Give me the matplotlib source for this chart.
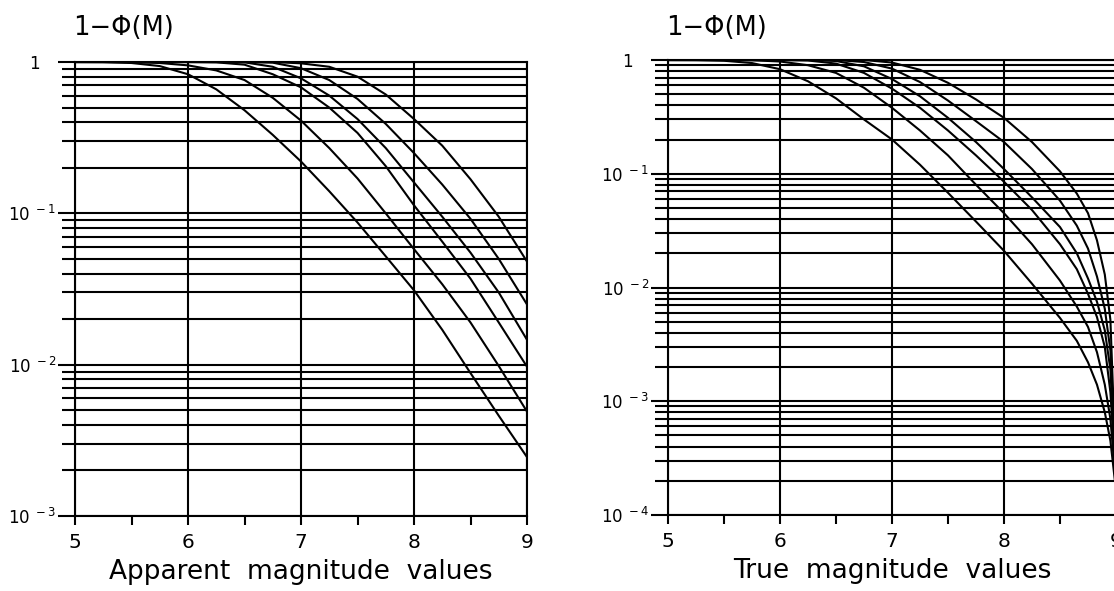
import matplotlib
matplotlib.use('Agg')
import matplotlib.pyplot as plt
from matplotlib.ticker import FixedLocator, FixedFormatter, NullFormatter

# ---------------- data ----------------
x_app = [5.0, 5.25, 5.5, 5.75, 6.0, 6.25, 6.5, 6.75, 7.0, 7.25, 7.5, 7.75, 8.0, 8.25, 8.5, 8.75, 9.0]
app_1 = [1.0, 0.998, 0.985, 0.94, 0.83, 0.66, 0.48, 0.33, 0.22, 0.14, 0.087, 0.052, 0.031, 0.017, 0.0088, 0.0046, 0.00245]
app_2 = [1.0, 1.0, 0.997, 0.985, 0.95, 0.88, 0.76, 0.58, 0.41, 0.27, 0.17, 0.10, 0.058, 0.034, 0.019, 0.0098, 0.0049]
app_3 = [1.0, 1.0, 1.0, 1.0, 1.0, 0.995, 0.96, 0.83, 0.68, 0.50, 0.34, 0.205, 0.113, 0.065, 0.037, 0.019, 0.0097]
app_4 = [1.0, 1.0, 1.0, 1.0, 1.0, 1.0, 0.995, 0.93, 0.78, 0.60, 0.42, 0.27, 0.16, 0.095, 0.055, 0.030, 0.0146]
app_5 = [1.0, 1.0, 1.0, 1.0, 1.0, 1.0, 1.0, 0.99, 0.91, 0.76, 0.57, 0.39, 0.25, 0.155, 0.092, 0.05, 0.025]
app_6 = [1.0, 1.0, 1.0, 1.0, 1.0, 1.0, 1.0, 1.0, 0.98, 0.93, 0.80, 0.61, 0.42, 0.28, 0.168, 0.095, 0.048]

x_true = [5.0, 5.25, 5.5, 5.75, 6.0, 6.25, 6.5, 6.75, 7.0, 7.25, 7.5, 7.75, 8.0, 8.25,
          8.5, 8.65, 8.75, 8.83, 8.9, 8.95, 8.99]
true_1 = [1.0, 0.998, 0.985, 0.94, 0.83, 0.65, 0.46, 0.30, 0.20, 0.12, 0.068, 0.038, 0.021, 0.0108,
          0.0054, 0.0034, 0.0022, 0.0014, 0.0008, 0.00045, 0.0002]
true_2 = [1.0, 1.0, 1.0, 0.995, 0.97, 0.90, 0.77, 0.57, 0.38, 0.24, 0.145, 0.08, 0.045, 0.024,
          0.0115, 0.0068, 0.0045, 0.0027, 0.0014, 0.0007, 0.00024]
true_3 = [1.0, 1.0, 1.0, 1.0, 1.0, 0.99, 0.93, 0.77, 0.56, 0.38, 0.24, 0.145, 0.085, 0.048,
          0.024, 0.0145, 0.0088, 0.0055, 0.0030, 0.0012, 0.00028]
true_4 = [1.0, 1.0, 1.0, 1.0, 1.0, 1.0, 0.98, 0.88, 0.68, 0.48, 0.31, 0.19, 0.11, 0.062,
          0.034, 0.020, 0.012, 0.0075, 0.0042, 0.0019, 0.00032]
true_5 = [1.0, 1.0, 1.0, 1.0, 1.0, 1.0, 1.0, 0.96, 0.84, 0.64, 0.44, 0.29, 0.19, 0.11,
          0.058, 0.035, 0.022, 0.0125, 0.0065, 0.0028, 0.00038]
true_6 = [1.0, 1.0, 1.0, 1.0, 1.0, 1.0, 1.0, 1.0, 0.95, 0.82, 0.63, 0.45, 0.31, 0.19,
          0.105, 0.067, 0.045, 0.026, 0.013, 0.0052, 0.00045]

x_ticks = [5, 6, 7, 8, 9]
x_tick_labels = ['5', '6', '7', '8', '9']
x_minor = [5.5, 6.5, 7.5, 8.5]
title_text = '1\u2212\u03a6(M)'
xlabel_left = 'Apparent  magnitude  values'
xlabel_right = 'True  magnitude  values'

LW = 1.5
W, H = 1114, 591

fig = plt.figure(figsize=(W / 100, H / 100), dpi=100)
fig.patch.set_facecolor('white')


def setup(ax, ymin_exp, xlabel):
    ax.set_yscale('log')
    ax.set_xlim(5, 9)
    ax.set_ylim(10.0 ** ymin_exp, 1.0)
    decades = list(range(ymin_exp, 1))
    majors = [10.0 ** k for k in decades]
    minors = [m * 10.0 ** k for k in range(ymin_exp, 0) for m in range(2, 10)]
    ax.yaxis.set_major_locator(FixedLocator(majors))
    ax.yaxis.set_minor_locator(FixedLocator(minors))
    labs = []
    for k in decades:
        if k == 0:
            labs.append('1   ')
        else:
            labs.append(r'$\mathregular{10^{\ -%d}}$' % (-k))
    ax.yaxis.set_major_formatter(FixedFormatter(labs))
    ax.yaxis.set_minor_formatter(NullFormatter())
    ax.xaxis.set_major_locator(FixedLocator(x_ticks))
    ax.xaxis.set_major_formatter(FixedFormatter(x_tick_labels))
    ax.xaxis.set_minor_locator(FixedLocator(x_minor))
    ax.xaxis.set_minor_formatter(NullFormatter())
    ax.grid(True, which='both', axis='y', color='black', lw=LW)
    ax.grid(True, which='major', axis='x', color='black', lw=LW)
    ax.tick_params(axis='y', which='major', direction='out', length=12.5, width=LW,
                   labelsize=12, pad=1, left=True, right=False)
    ax.tick_params(axis='y', which='minor', direction='out', length=9.5, width=LW,
                   left=True, right=False)
    ax.tick_params(axis='x', which='both', direction='out', length=6.5, width=LW,
                   labelsize=14.5, pad=6, bottom=True, top=False)
    for s in ax.spines.values():
        s.set_linewidth(LW)
        s.set_color('black')
    ax.set_xlabel(xlabel, fontsize=19, labelpad=5)
    ax.set_axisbelow(True)


axL = fig.add_axes([75 / W, 75 / H, 452 / W, 454 / H])
setup(axL, -3, xlabel_left)
for ys in (app_1, app_2, app_3, app_4, app_5, app_6):
    axL.plot(x_app, ys, color='black', lw=LW, solid_joinstyle='round')

axR = fig.add_axes([668 / W, 76 / H, 448 / W, 455 / H])
setup(axR, -4, xlabel_right)
for ys in (true_1, true_2, true_3, true_4, true_5, true_6):
    axR.plot(x_true, ys, color='black', lw=LW, solid_joinstyle='round')

fig.text(73 / W, 1 - 28 / H, title_text, fontsize=18.5, ha='left', va='center')
fig.text(666 / W, 1 - 28 / H, title_text, fontsize=18.5, ha='left', va='center')

fig.savefig('out.png', dpi=100, facecolor='white')
